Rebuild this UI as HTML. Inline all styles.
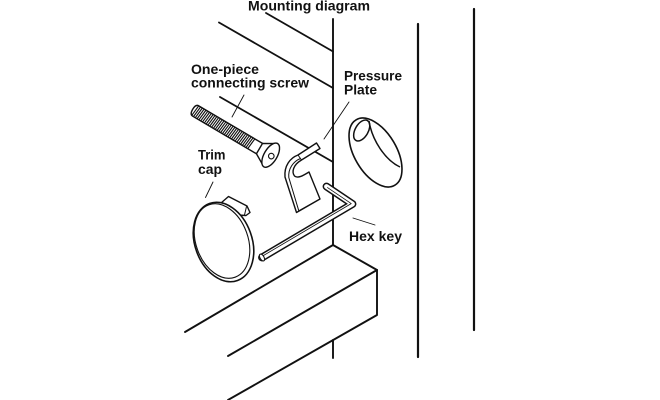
<!DOCTYPE html>
<html><head><meta charset="utf-8"><style>
html,body{margin:0;padding:0;background:#fff;}
svg{display:block;}
text{font-family:"Liberation Sans",Arial,sans-serif;font-weight:bold;font-size:14px;fill:#111;}
</style></head><body>
<svg width="660" height="400" viewBox="0 0 660 400" xmlns="http://www.w3.org/2000/svg">
<rect width="660" height="400" fill="#fff"/>
<g stroke="#111" fill="none" stroke-linecap="round" stroke-linejoin="round">
  <!-- right verticals -->
  <line x1="418" y1="24" x2="418" y2="357" stroke-width="2.2"/>
  <line x1="474" y1="9" x2="474" y2="330" stroke-width="2.2"/>
  <!-- wall -->
  <line x1="333" y1="19" x2="333" y2="245" stroke-width="1.9"/>
  <line x1="333" y1="340" x2="333" y2="358" stroke-width="1.9"/>
  <line x1="266" y1="13" x2="333" y2="51.5" stroke-width="1.8"/>
  <line x1="219" y1="22.5" x2="333" y2="88" stroke-width="1.8"/>
  <line x1="220" y1="97" x2="333" y2="162" stroke-width="1.8"/>
  <!-- shelf -->
  <polyline points="185,332 333,245 377,270" stroke-width="1.9"/>
  <line x1="228" y1="356" x2="377" y2="270" stroke-width="1.9"/>
  <polyline points="377,270 377,315 228,400" stroke-width="1.9"/>
  <!-- leaders -->
  <line x1="244" y1="95" x2="232" y2="117" stroke-width="0.9"/>
  <line x1="349" y1="102" x2="324" y2="139" stroke-width="0.9"/>
  <line x1="213" y1="182" x2="205.5" y2="197.5" stroke-width="0.9"/>
  <line x1="353" y1="218" x2="375" y2="225" stroke-width="0.9"/>
</g>

<!-- screw -->
<g transform="translate(194,110) rotate(30.5)" stroke="#111" stroke-width="1.4" fill="#fff" stroke-linejoin="round">
  <path d="M2,-6 L77,-6 L77,6 L2,6 Q-1.5,6 -1.5,0 Q-1.5,-6 2,-6 Z"/>
  <path fill="none" stroke-width="1.15" d="M2,-6 L0.8,6 M4.1,-6 L2.9,6 M6.2,-6 L5,6 M8.3,-6 L7.1,6 M10.4,-6 L9.2,6 M12.5,-6 L11.3,6 M14.6,-6 L13.4,6 M16.7,-6 L15.5,6 M18.8,-6 L17.6,6 M20.9,-6 L19.7,6 M23,-6 L21.8,6 M25.1,-6 L23.9,6 M27.2,-6 L26,6 M29.3,-6 L28.1,6 M31.4,-6 L30.2,6 M33.5,-6 L32.3,6 M35.6,-6 L34.4,6 M37.7,-6 L36.5,6 M39.8,-6 L38.6,6 M41.9,-6 L40.7,6 M44,-6 L42.8,6 M46.1,-6 L44.9,6 M48.2,-6 L47,6 M50.3,-6 L49.1,6 M52.4,-6 L51.2,6 M54.5,-6 L53.3,6 M56.6,-6 L55.4,6 M58.7,-6 L57.5,6 M60.8,-6 L59.6,6 M62.9,-6 L61.7,6 M65,-6 L63.8,6 M67.1,-6 L65.9,6"/>
  <path d="M76,-6 L89,-13.5 L89,13.5 L76,6 Z"/>
  <ellipse cx="89" cy="0" rx="6.5" ry="13.5"/>
  <circle cx="90" cy="0.5" r="2.8" stroke-width="1.1"/>
</g>

<!-- trim cap -->
<g stroke="#111" fill="#fff" stroke-linejoin="round">
  <path d="M221,203 L228.5,196.5 L247,206 L250,212.5 L246,215.5 L237,215 Z" stroke-width="1.4"/>
  <line x1="246.5" y1="206.5" x2="244.5" y2="215" stroke-width="1"/>
  <ellipse cx="223.5" cy="242" rx="28.5" ry="41" transform="rotate(-20 223.5 242)" stroke-width="1.6"/>
  <ellipse cx="222" cy="241" rx="26" ry="38.5" transform="rotate(-20 222 241)" stroke-width="1.1"/>
</g>

<!-- pressure plate -->
<g stroke="#111" fill="#fff" stroke-linejoin="round" stroke-width="1.4">
  <path d="M298,155 C290,158 284,166 285,177 L296.5,212.5 L320,199 L309,172 C304,175 298,179 294.5,176 C291.5,172 293,165 301.5,160 L320,148.5 L316.5,143 Z"/>
  <path fill="none" stroke-width="1" d="M300.5,158.5 C293,161.5 288,169 288.8,177.5 L298.8,210.8 L319,199.5"/>
  <line x1="298" y1="155" x2="301.5" y2="160" stroke-width="1"/>
</g>

<!-- hex key -->
<g fill="none" stroke-linejoin="round" stroke-linecap="round">
  <path d="M262,257.5 L352.5,204 L326.5,186.5" stroke="#111" stroke-width="7.8"/>
  <path d="M262,257.5 L352.5,204 L326.5,186.5" stroke="#fff" stroke-width="4.8"/>
  <path d="M263.5,255.5 L351.2,203.6 L327.5,187.6" stroke="#111" stroke-width="0.8"/>
  <ellipse cx="0" cy="0" rx="2" ry="3.8" transform="translate(262,257.5) rotate(-30.6)" fill="#fff" stroke="#111" stroke-width="1.1"/>
</g>

<!-- countersunk hole -->
<g stroke="#111" fill="#fff">
  <ellipse cx="375.5" cy="152.5" rx="21" ry="38" transform="rotate(-30.6 375.5 152.5)" stroke-width="1.6"/>
  <ellipse cx="361.7" cy="130.5" rx="6.5" ry="11.5" transform="rotate(30 361.7 130.5)" stroke-width="1.5" fill="none"/>
  <path d="M369,121 C372,140 385,160 400,167" stroke-width="1.5" fill="none"/>
</g>

<!-- labels -->
<text x="248" y="10.5" textLength="122" lengthAdjust="spacingAndGlyphs">Mounting diagram</text>
<text x="191" y="74" textLength="68" lengthAdjust="spacingAndGlyphs">One-piece</text>
<text x="191" y="87.5" textLength="118" lengthAdjust="spacingAndGlyphs">connecting screw</text>
<text x="344" y="80.5" textLength="58" lengthAdjust="spacingAndGlyphs">Pressure</text>
<text x="344" y="94.5" textLength="33" lengthAdjust="spacingAndGlyphs">Plate</text>
<text x="198" y="159.5" textLength="27.5" lengthAdjust="spacingAndGlyphs">Trim</text>
<text x="198" y="174" textLength="24" lengthAdjust="spacingAndGlyphs">cap</text>
<text x="349" y="241" textLength="53" lengthAdjust="spacingAndGlyphs">Hex key</text>
</svg>
</body></html>
